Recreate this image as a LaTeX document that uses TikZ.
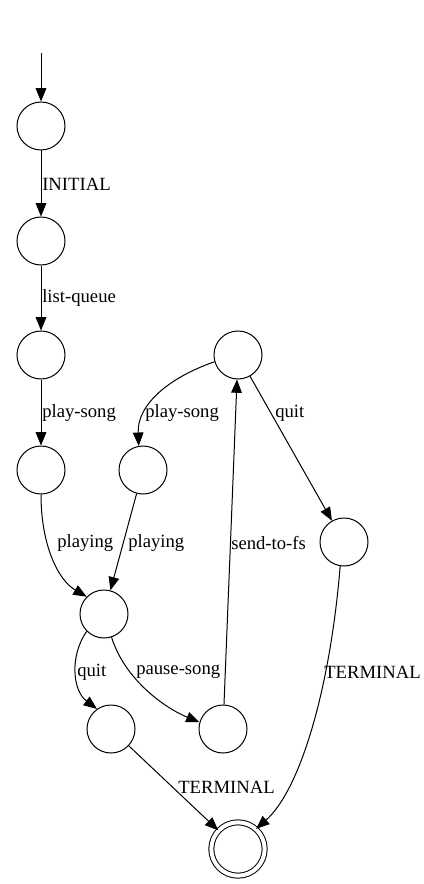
\documentclass[tikz,border=0pt]{standalone}
\usepackage{fontspec}
\setmainfont{Liberation Serif}
\usetikzlibrary{arrows.meta}
\tikzset{
	state/.style={draw, circle, line width=0.75pt, minimum size=36pt, inner sep=0pt},
	final/.style={state, double, double distance=3pt},
	edge/.style={line width=0.75pt, -{Triangle[length=10pt, width=8pt]}},
	lbl/.style={inner sep=0pt, anchor=west, font=\fontsize{14pt}{16pt}\selectfont}
}
\begin{document}
\begin{tikzpicture}[x=0.75pt, y=-0.75pt]
		%%%%% START %%%%%
		\useasboundingbox (0, 0) rectangle (424, 884);
		
		\node[state] (s1) at (41, 126) {};
		\node[state] (s2) at (41, 241) {};
		\node[state] (s3) at (41, 355) {};
		\node[state] (s4) at (41, 470) {};
		\node[state] (s5) at (143, 470) {};
		\node[state] (s6) at (238, 355) {};
		\node[state] (s7) at (344, 542) {};
		\node[state] (s8) at (104, 614) {};
		\node[state] (s9) at (111, 729) {};
		\node[state] (s10) at (223, 729) {};
		\node[final, minimum size=40pt] (end) at (238, 849) {};
		\coordinate (start) at (41, 53);
		
		% left column
		\draw[edge] (start) -- (s1);
		\draw[edge] (s1) -- (s2);
		\draw[edge] (s2) -- (s3);
		\draw[edge] (s3) -- (s4);
		\node[lbl] at (42, 184) {INITIAL};
		\node[lbl] at (42, 298) {list-queue};
		\node[lbl] at (42, 413) {play-song};
		
		% into playing
		\draw[edge] (s4.south) .. controls (41, 545) and (58, 580) .. (s8.north west);
		\draw[edge] (s5) -- (s8);
		\draw[edge] (s6.196) .. controls (168, 378) and (137, 405) .. (s5.100);
		\node[lbl] at (57, 543) {playing};
		\node[lbl] at (128, 543) {playing};
		\node[lbl] at (145, 413) {play-song};
		
		% right side
		\draw[edge] (s6) -- (s7);
		\draw[edge] (s10) -- (s6);
		\node[lbl] at (275, 413) {quit};
		\node[lbl] at (231, 543) {send-to-fs};
		
		% bottom
		\draw[edge] (s8.225) .. controls (70, 655) and (72, 690) .. (s9.125);
		\draw[edge] (s8.288) .. controls (125, 680) and (165, 708) .. (s10.164);
		\draw[edge] (s9) -- (end);
		\draw[edge] (s7.261) .. controls (330, 690) and (300, 790) .. (end.48);
		\node[lbl] at (77, 672) {quit};
		\node[lbl] at (136, 672) {pause-song};
		\node[lbl] at (324, 672) {TERMINAL};
		\node[lbl] at (178, 787) {TERMINAL};
		
		%%%%% END %%%%%
	\end{tikzpicture}
\end{document}
